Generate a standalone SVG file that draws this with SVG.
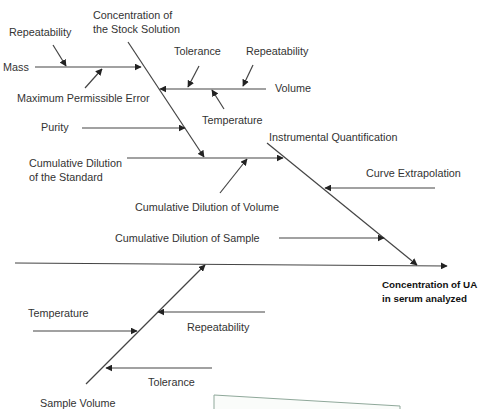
<svg xmlns="http://www.w3.org/2000/svg" width="483" height="409" viewBox="0 0 483 409">
<defs>
<marker id="ah" viewBox="0 0 10 10" refX="9" refY="5" markerWidth="7" markerHeight="7" markerUnits="userSpaceOnUse" orient="auto">
<path d="M0,0 L10,5 L0,10 z" fill="#222"/>
</marker>
</defs>
<style>
text{font-family:"Liberation Sans",Arial,sans-serif;font-size:10.8px;fill:#333}
.b{font-weight:bold;fill:#111;font-size:9.8px}
.l{stroke:#444;stroke-width:1.2;fill:none}
.a{stroke:#444;stroke-width:1.2;fill:none;marker-end:url(#ah)}
</style>
<rect width="483" height="409" fill="#fff"/>
<g id="connectors">
<line class="a" x1="15" y1="263" x2="447" y2="266"/>
<line class="a" x1="128" y1="42" x2="204" y2="157"/>
<line class="a" x1="267" y1="143" x2="417" y2="265"/>
<line class="a" x1="86" y1="384" x2="205" y2="265"/>
<line class="a" x1="35" y1="67" x2="141" y2="67"/>
<line class="a" x1="53" y1="45" x2="66" y2="66"/>
<line class="a" x1="85" y1="88" x2="102" y2="69"/>
<line class="a" x1="266" y1="89" x2="160" y2="89"/>
<line class="a" x1="199" y1="66" x2="188" y2="87"/>
<line class="a" x1="253" y1="65" x2="243" y2="86"/>
<line class="a" x1="224" y1="109" x2="212" y2="90"/>
<line class="a" x1="82" y1="128" x2="185" y2="128"/>
<line class="a" x1="127" y1="158" x2="283" y2="158"/>
<line class="a" x1="220" y1="193" x2="247" y2="159"/>
<line class="a" x1="435" y1="188" x2="325" y2="188"/>
<line class="a" x1="279" y1="238" x2="384" y2="238"/>
<line class="a" x1="33" y1="331" x2="137" y2="331"/>
<line class="a" x1="265" y1="312" x2="158" y2="312"/>
<line class="a" x1="212" y1="368" x2="106" y2="368"/>
</g>
<g id="stock"><text x="93" y="19">Concentration of</text><text x="93" y="33">the Stock Solution</text></g>
<g id="mass"><text x="3" y="71">Mass</text></g>
<g id="mass-repeatability"><text x="9" y="36">Repeatability</text></g>
<g id="mpe"><text x="17" y="102">Maximum Permissible Error</text></g>
<g id="volume"><text x="275" y="92">Volume</text></g>
<g id="vol-tolerance"><text x="174" y="55">Tolerance</text></g>
<g id="vol-repeatability"><text x="246" y="55">Repeatability</text></g>
<g id="vol-temperature"><text x="202" y="124">Temperature</text></g>
<g id="purity"><text x="41" y="131">Purity</text></g>
<g id="standard"><text x="29" y="167">Cumulative Dilution</text><text x="29" y="181">of the Standard</text></g>
<g id="cum-volume"><text x="135" y="211">Cumulative Dilution of Volume</text></g>
<g id="instrumental"><text x="269" y="141">Instrumental Quantification</text></g>
<g id="curve"><text x="366" y="177">Curve Extrapolation</text></g>
<g id="cum-sample"><text x="115" y="242">Cumulative Dilution of Sample</text></g>
<g id="effect"><text class="b" x="382" y="288">Concentration of UA</text><text class="b" x="382" y="302">in serum analyzed</text></g>
<g id="sample-volume"><text x="40" y="407">Sample Volume</text></g>
<g id="sv-temperature"><text x="28" y="317">Temperature</text></g>
<g id="sv-repeatability"><text x="187" y="331">Repeatability</text></g>
<g id="sv-tolerance"><text x="148" y="386">Tolerance</text></g>
<polygon points="214,395 400,406 400,412 214,412" fill="#fafcfa" stroke="#8fa89a" stroke-width="1"/>
</svg>
